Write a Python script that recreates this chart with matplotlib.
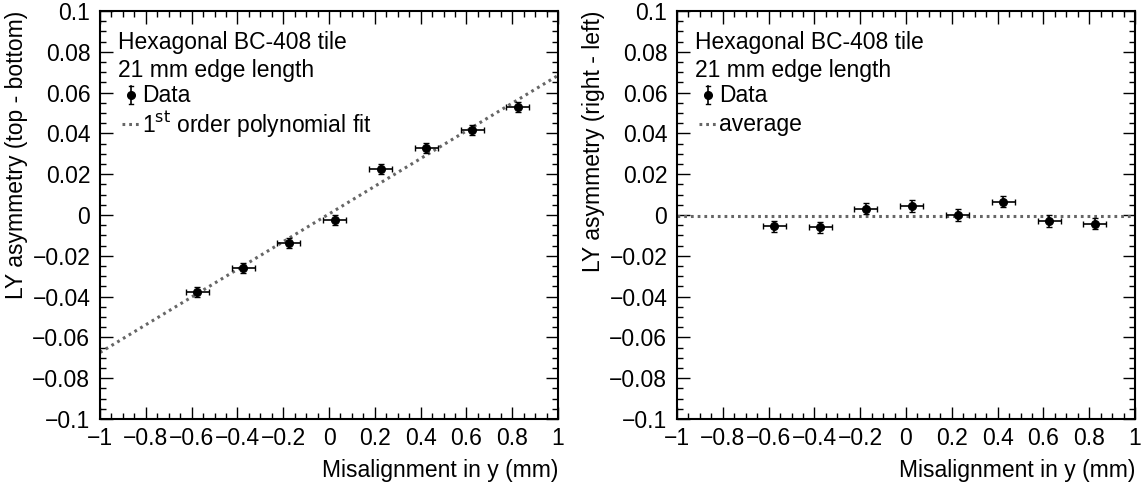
import numpy as np
import matplotlib
matplotlib.use("Agg")
import matplotlib.pyplot as plt
from matplotlib.ticker import MultipleLocator, FuncFormatter

plt.rcParams['font.family'] = ['Liberation Sans', 'DejaVu Sans']

# ---- data ----
x_pos = [-0.575, -0.375, -0.175, 0.025, 0.225, 0.425, 0.625, 0.825]
x_err = [0.05, 0.05, 0.05, 0.05, 0.05, 0.05, 0.05, 0.05]
asym_tb = [-0.0376, -0.0258, -0.0137, -0.0024, 0.0226, 0.0330, 0.0418, 0.0528]
asym_tb_err = [0.0025, 0.0025, 0.0025, 0.0025, 0.0025, 0.0025, 0.0025, 0.0025]
asym_rl = [-0.0056, -0.0060, 0.0031, 0.0044, 0.0000, 0.0066, -0.0030, -0.0043]
asym_rl_err = [0.0028, 0.0028, 0.0028, 0.0028, 0.0028, 0.0028, 0.0028, 0.0028]
fit_slope = 0.0679
fit_intercept = 0.0005
avg_rl = -0.0006

legend_title = ["Hexagonal BC-408 tile", "21 mm edge length"]
y_labels = ["LY asymmetry (top - bottom)", "LY asymmetry (right - left)"]
fit_labels = [r"1$^{\rm st}$ order polynomial fit", "average"]
x_label = "Misalignment in y (mm)"

FS = 16.5
fig = plt.figure(figsize=(11.48, 4.91), dpi=100)
W, H = 1148, 491
axL = fig.add_axes([100 / W, 1 - 419 / H, 458 / W, 408 / H])
axR = fig.add_axes([677 / W, 1 - 419 / H, 458 / W, 408 / H])

def fmt(v, p):
    s = "%g" % round(v, 6)
    if s == "-0":
        s = "0"
    return s.replace("-", "\u2212")

xline = np.array([-1.0, 1.0])
fit_vals = [fit_intercept + fit_slope * xline, np.array([avg_rl, avg_rl])]
ys = [asym_tb, asym_rl]
yerrs = [asym_tb_err, asym_rl_err]

for i, ax in enumerate([axL, axR]):
    ax.set_xlim(-1, 1)
    ax.set_ylim(-0.1, 0.1)
    ax.plot(xline, fit_vals[i], color='#666666', lw=2.2, ls=(0, (0.9, 1.3)),
            solid_capstyle='butt', dash_capstyle='butt', zorder=2)
    ax.errorbar(x_pos, ys[i], xerr=x_err, yerr=yerrs[i], fmt='o', color='black',
                ms=5.5, elinewidth=1.2, capsize=2, capthick=1.0, zorder=3)
    ax.xaxis.set_major_locator(MultipleLocator(0.2))
    ax.xaxis.set_minor_locator(MultipleLocator(0.05))
    ax.yaxis.set_major_locator(MultipleLocator(0.02))
    ax.yaxis.set_minor_locator(MultipleLocator(0.005))
    ax.xaxis.set_major_formatter(FuncFormatter(fmt))
    ax.yaxis.set_major_formatter(FuncFormatter(fmt))
    ax.tick_params(which='both', direction='in', top=True, right=True, width=1.0,
                   labelsize=FS)
    ax.tick_params(which='major', length=9)
    ax.tick_params(which='minor', length=4.5)
    ax.tick_params(axis='x', which='major', pad=6)
    ax.tick_params(axis='y', which='major', pad=7)
    for sp in ax.spines.values():
        sp.set_linewidth(1.5)
    ax.set_xlabel(x_label, fontsize=FS, loc='right', labelpad=6)
    ax.set_ylabel(y_labels[i], fontsize=FS, loc='top', labelpad=3)

    # legend block
    t = ax.transAxes
    def ax_x(px):
        return px / 458.0
    def ax_y(py):
        return 1 - (py - 11) / 408.0
    ax.text(ax_x(18), ax_y(42), legend_title[0], transform=t, fontsize=FS, va='center', ha='left')
    ax.text(ax_x(18), ax_y(70), legend_title[1], transform=t, fontsize=FS, va='center', ha='left')
    ax.plot([ax_x(31)], [ax_y(95)], 'o', color='black', ms=5.5, transform=t, clip_on=False)
    ax.plot([ax_x(31), ax_x(31)], [ax_y(86), ax_y(104)], color='black', lw=1.2, transform=t, clip_on=False)
    ax.plot([ax_x(29), ax_x(33)], [ax_y(86), ax_y(86)], color='black', lw=1.0, transform=t)
    ax.plot([ax_x(29), ax_x(33)], [ax_y(104), ax_y(104)], color='black', lw=1.0, transform=t)
    ax.text(ax_x(42), ax_y(96), "Data", transform=t, fontsize=FS, va='center', ha='left')
    ax.plot([ax_x(22), ax_x(40)], [ax_y(124), ax_y(124)], color='#666666', lw=2.2,
            ls=(0, (0.9, 1.3)), transform=t)
    ax.text(ax_x(42), ax_y(124), fit_labels[i], transform=t, fontsize=FS, va='center', ha='left')

fig.savefig("out.png", dpi=100)
